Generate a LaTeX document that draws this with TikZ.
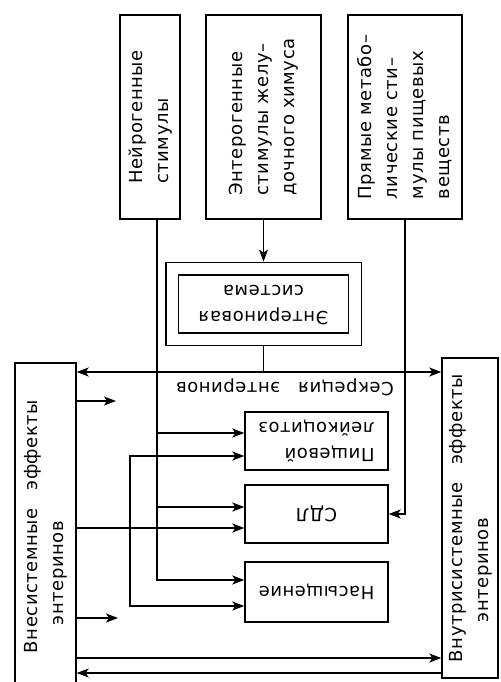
\documentclass[tikz,border=0pt]{standalone}
\usepackage{fontspec}
\setmainfont{DejaVu Sans}[LetterSpace=3]
\usepackage{graphicx}
\usepackage{tikz}
\usetikzlibrary{arrows.meta}
\usetikzlibrary{fit}
\tikzstyle{blk}=[draw,rectangle,inner sep=0pt,line width=0.7pt]
\newcommand{\UpText}[1]{\rotatebox{90}{\begin{tabular}{@{}l@{}}#1\end{tabular}}}
\newcommand{\DownText}[2][l]{\rotatebox{180}{\begin{tabular}{@{}#1@{}}#2\end{tabular}}}

\begin{document}
\begin{tikzpicture}[x=0.5pt,y=-0.5pt,font=\fontsize{9}{13}\selectfont,line width=0.7pt,>={Stealth[length=6pt,width=4.5pt,inset=1.5pt]}]
	\clip (0,0) rectangle (501,682);
	\tikzstyle{arrow}=[->];
	\tikzstyle{both}=[<->];

	% stimuli
	\node (N) [blk,minimum width=30pt,minimum height=102pt] at (150,117) {\UpText{Нейрогенные\\стимулы}};
	\node (E) [blk,minimum width=57.5pt,minimum height=102pt] at (263.5,117) {\UpText{Энтерогенные\\стимулы желу--\\дочного химуса}};
	\node (P) [blk,minimum width=57pt,minimum height=102pt] at (405,117) {\UpText{Прямые метабо--\\лические сти--\\мулы пищевых\\веществ}};

	% enterin system
	\node (ESin) [blk,minimum width=85pt,minimum height=29pt] at (263.5,304) {\DownText[c]{Энтериновая\\система}};
	\node (ES) [draw,fit=(ESin),inner sep=6pt] {};

	% effects
	\node (L) [blk,minimum width=30.5pt,minimum height=163.5pt] at (45.5,526.5) {\UpText{Внесистемные\quad эффекты\\\hspace{14pt}энтеринов}};
	\node (R) [blk,minimum width=28pt,minimum height=160pt] at (470,518) {\UpText{Внутрисистемные\quad эффекты\\\hspace{20pt}энтеринов}};
	\node (PL) [blk,minimum width=71.5pt,minimum height=29pt] at (316.5,441) {\DownText{Пищевой\\лейкоцитоз}};
	\node (SDL) [blk,minimum width=71.5pt,minimum height=29pt] at (316.5,514) {\DownText{СДЛ}};
	\node (SAT) [blk,minimum width=71.5pt,minimum height=30pt] at (316.5,592) {\DownText{Насыщение}};
	\node (seclbl) at (285,388) {\DownText{Секреция\quad энтеринов}};

	% levels
	\coordinate (sec) at (0,372);
	\coordinate (n0) at ([xshift=3.5pt]N.south);
	\coordinate (fb) at (130,0);
	\coordinate (pl1) at (0,433);
	\coordinate (pl2) at (0,456);
	\coordinate (sd1) at (0,507);
	\coordinate (sd2) at (0,528);
	\coordinate (sa1) at (0,580);
	\coordinate (sa2) at (0,606);
	\coordinate (o1) at (116,401);
	\coordinate (o2) at (118,618);
	\coordinate (b1) at (0,658);
	\coordinate (b2) at (0,673);

	\draw[arrow] (E.south) -- (E.south |- ES.north);
	\draw (ES.south) -- (ES.south |- sec);
	\draw[both] (L.east |- sec) -- (R.west |- sec);

	\draw[arrow] (n0) |- (SAT.west |- sa1);
	\draw[arrow] (n0 |- pl1) -- (PL.west |- pl1);
	\draw[arrow] (n0 |- sd1) -- (SDL.west |- sd1);
	\draw[arrow] (P.south) |- (SDL.east);

	\draw[arrow] (L.east |- sd2) -- (SDL.west |- sd2);
	\draw[both] (PL.west |- pl2) -| (fb |- sa2) -- (SAT.west |- sa2);
	\draw[arrow] (L.east |- o1) -- (o1);
	\draw[arrow] (L.east |- o2) -- (o2);

	\draw[arrow] (L.east |- b1) -- (R.west |- b1);
	\draw[arrow] (R.west |- b2) -- (L.east |- b2);
\end{tikzpicture}
\end{document}
